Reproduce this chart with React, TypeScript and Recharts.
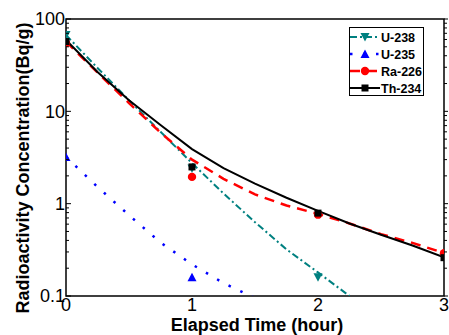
import { ComposedChart, Legend, Line, ReferenceArea, XAxis, YAxis } from "recharts";

const FONT = '"Liberation Sans", Arial, Helvetica, sans-serif';
const TEAL = "#008080";
const BLUE = "#0000ff";
const RED = "#ff0000";
const BLACK = "#000000";

// measured points (markers)
const u238Time = [0, 1, 2];
const u238Value = [67, 2.4, 0.16];
const u235Time = [0, 1];
const u235Value = [3.2, 0.16];
const ra226Time = [0, 1, 2, 3];
const ra226Value = [55, 1.95, 0.76, 0.29];
const th234Time = [0, 1, 2, 3];
const th234Value = [57, 2.5, 0.79, 0.26];

// fitted curves
const u238FitTime = [0, 0.25, 0.5, 0.75, 1, 1.25, 1.5, 1.75, 2, 2.25];
const u238FitValue = [67, 29.5, 13.2, 6.0, 2.75, 1.29, 0.63, 0.32, 0.18, 0.1];
const u235FitTime = [0, 0.25, 0.5, 0.75, 1, 1.25, 1.5];
const u235FitValue = [3.2, 1.52, 0.75, 0.38, 0.22, 0.138, 0.095];
const ra226FitTime = [0, 0.25, 0.5, 0.75, 1, 1.25, 1.5, 1.75, 2, 2.25, 2.5, 2.75, 3];
const ra226FitValue = [56.9, 26.3, 12.3, 5.9, 3.0, 1.86, 1.26, 0.955, 0.776, 0.61, 0.468, 0.376, 0.292];
const th234FitTime = [0, 0.25, 0.5, 0.75, 1, 1.25, 1.5, 1.75, 2, 2.25, 2.5, 2.75, 3];
const th234FitValue = [59.2, 26.7, 13.2, 7.1, 3.9, 2.42, 1.65, 1.16, 0.834, 0.61, 0.461, 0.352, 0.262];

const xTicks = [0, 1, 2, 3];
const decadeTicks = [0.1, 1, 10, 100];
const minorTicks = [
  0.2, 0.3, 0.4, 0.5, 0.6, 0.7, 0.8, 0.9,
  2, 3, 4, 5, 6, 7, 8, 9,
  20, 30, 40, 50, 60, 70, 80, 90,
];
const yTicks = [...decadeTicks, ...minorTicks];

const legendNames = ["U-238", "U-235", "Ra-226", "Th-234"];

const toPoints = (ts: number[], vs: number[]) => ts.map((t, i) => ({ t, v: vs[i] }));

type MarkerKind = "down" | "up" | "circle" | "square";

function markerShape(kind: MarkerKind, cx: number, cy: number, color: string, key?: string) {
  if (kind === "down") {
    return <path key={key} d={`M${cx - 4.5},${cy - 4} L${cx + 4.5},${cy - 4} L${cx},${cy + 4.5} Z`} fill={color} />;
  }
  if (kind === "up") {
    return <path key={key} d={`M${cx - 4.5},${cy + 4} L${cx + 4.5},${cy + 4} L${cx},${cy - 4.5} Z`} fill={color} />;
  }
  if (kind === "circle") {
    return <circle key={key} cx={cx} cy={cy} r={4.2} fill={color} />;
  }
  return <rect key={key} x={cx - 3.5} y={cy - 3.5} width={7} height={7} fill={color} />;
}

const dotRenderer = (kind: MarkerKind, color: string) => (props: any) => {
  const { cx, cy, index } = props;
  if (cx == null || cy == null) return <g key={`e-${index}`} />;
  return markerShape(kind, cx, cy, color, `${kind}-${index}`);
};

const series = [
  { name: legendNames[0], color: TEAL, dash: "7 3 2 3", width: 2, kind: "down" as MarkerKind },
  { name: legendNames[1], color: BLUE, dash: "2.5 10.5", width: 2.5, kind: "up" as MarkerKind },
  { name: legendNames[2], color: RED, dash: "10 7", width: 2.5, kind: "circle" as MarkerKind },
  { name: legendNames[3], color: BLACK, dash: undefined, width: 2, kind: "square" as MarkerKind },
];

function LeftTick({ x, y, payload }: any) {
  const v = payload.value;
  const major = decadeTicks.includes(v);
  return (
    <g>
      <line x1={x} x2={x + (major ? 5 : 3)} y1={y} y2={y} stroke="#000" />
      {major ? (
        <text x={x - 1} y={y} dy="0.36em" textAnchor="end" fontSize={18} fontFamily={FONT} fill="#000">
          {String(v)}
        </text>
      ) : null}
    </g>
  );
}

function RightTick({ x, y, payload }: any) {
  const major = decadeTicks.includes(payload.value);
  return <line x1={x} x2={x + (major ? 4 : 3)} y1={y} y2={y} stroke="#000" />;
}

function BottomTick({ x, y, payload }: any) {
  return (
    <text x={x} y={y} dy="0.71em" textAnchor="middle" fontSize={18} fontFamily={FONT} fill="#000">
      {String(payload.value)}
    </text>
  );
}

const renderYLabel = () => (
  <text
    x={29}
    y={168}
    transform="rotate(-90 29 168)"
    textAnchor="middle"
    fontSize={18}
    fontWeight="bold"
    fontFamily={FONT}
    fill="#000"
  >
    Radioactivity Concentration(Bq/g)
  </text>
);

const renderXLabel = () => (
  <text x={257} y={331} textAnchor="middle" fontSize={18} fontWeight="bold" fontFamily={FONT} fill="#000">
    Elapsed Time (hour)
  </text>
);

const renderLegend = () => (
  <svg width={75} height={69} style={{ display: "block" }}>
    <rect x={0.5} y={0.5} width={74} height={68} fill="#fff" stroke="#000" strokeWidth={1} />
    {series.map((s, i) => {
      const y = 10 + i * 17;
      return (
        <g key={s.name}>
          <line x1={1} x2={31} y1={y} y2={y} stroke={s.color} strokeWidth={s.width} strokeDasharray={s.dash} />
          {markerShape(s.kind, 16, y, s.color)}
          <text x={32} y={y} dy="0.36em" fontSize={12.5} fontWeight="bold" fontFamily={FONT} fill="#000">
            {s.name}
          </text>
        </g>
      );
    })}
  </svg>
);

const fits = [
  toPoints(u238FitTime, u238FitValue),
  toPoints(u235FitTime, u235FitValue),
  toPoints(ra226FitTime, ra226FitValue),
  toPoints(th234FitTime, th234FitValue),
];
const measured = [
  toPoints(u238Time, u238Value),
  toPoints(u235Time, u235Value),
  toPoints(ra226Time, ra226Value),
  toPoints(th234Time, th234Value),
];

export default function App() {
  return (
    <div style={{ position: "absolute", left: 0, top: 0, width: 449, height: 335, background: "#fff" }}>
      <ComposedChart width={449} height={335} margin={{ top: 19, right: 0, bottom: 0, left: 0 }}>
        <XAxis
          dataKey="t"
          type="number"
          domain={[0, 3]}
          ticks={xTicks}
          allowDataOverflow
          height={39}
          axisLine={false}
          tickLine={false}
          tickSize={0}
          tickMargin={2}
          interval={0}
          tick={<BottomTick />}
          label={{ content: renderXLabel }}
        />
        <YAxis
          type="number"
          scale="log"
          domain={[0.1, 100]}
          ticks={yTicks}
          allowDataOverflow
          width={66}
          axisLine={false}
          tickLine={false}
          tickSize={0}
          tickMargin={0}
          interval={0}
          tick={<LeftTick />}
          label={{ content: renderYLabel }}
        />
        <YAxis
          yAxisId="r"
          orientation="right"
          type="number"
          scale="log"
          domain={[0.1, 100]}
          ticks={yTicks}
          allowDataOverflow
          width={5}
          axisLine={false}
          tickLine={false}
          tickSize={0}
          tickMargin={0}
          interval={0}
          tick={<RightTick />}
        />
        <ReferenceArea x1={0} x2={3} y1={0.1} y2={100} fill="none" stroke="#000" strokeWidth={1.5} />
        {series.map((s, i) => (
          <Line
            key={`fit-${s.name}`}
            data={fits[i]}
            dataKey="v"
            type="linear"
            stroke={s.color}
            strokeWidth={s.width}
            strokeDasharray={s.dash}
            dot={false}
            activeDot={false}
            legendType="none"
            isAnimationActive={false}
          />
        ))}
        {series.map((s, i) => (
          <Line
            key={`pts-${s.name}`}
            data={measured[i]}
            dataKey="v"
            stroke="none"
            dot={dotRenderer(s.kind, s.color)}
            activeDot={false}
            legendType="none"
            isAnimationActive={false}
          />
        ))}
        <Legend
          layout="vertical"
          align="center"
          verticalAlign="middle"
          wrapperStyle={{ position: "absolute", left: 349, top: 27, width: 75, height: 69 }}
          content={renderLegend}
        />
      </ComposedChart>
    </div>
  );
}
